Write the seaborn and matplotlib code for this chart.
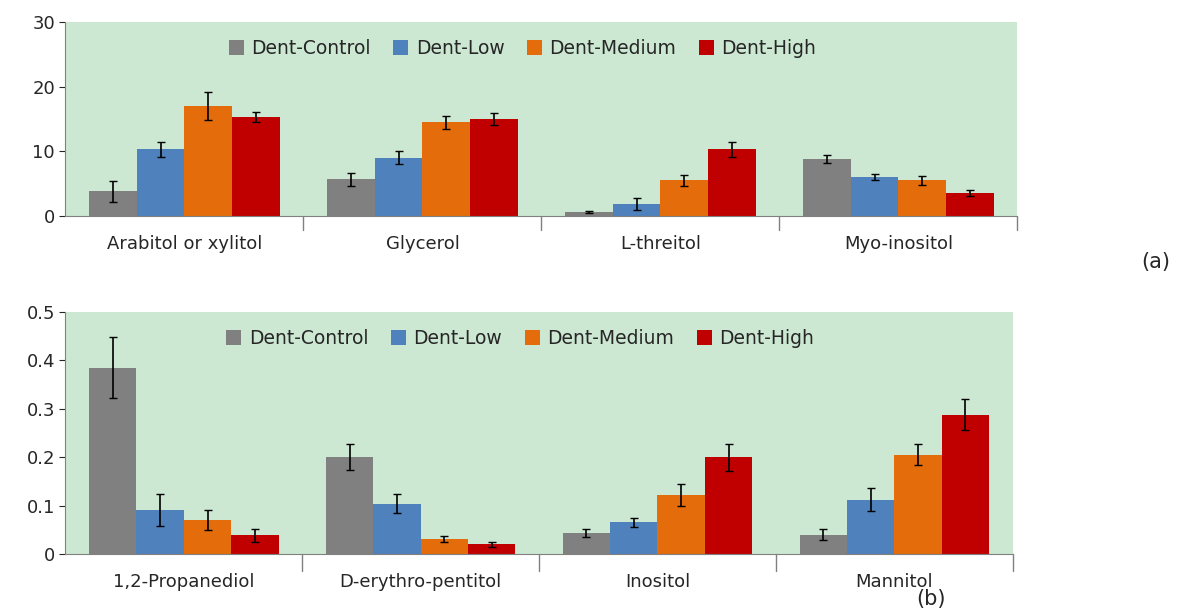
import numpy as np
import pandas as pd
import matplotlib
matplotlib.use("Agg")
import matplotlib.pyplot as plt
import seaborn as sns

groups = ["Dent-Control", "Dent-Low", "Dent-Medium", "Dent-High"]
colors = ["#808080", "#4F81BD", "#E46C0A", "#C00000"]

cats_a = ["Arabitol or xylitol", "Glycerol", "L-threitol", "Myo-inositol"]
vals_a = [[3.8, 5.7, 0.6, 8.8],
          [10.3, 9.0, 1.9, 6.0],
          [17.0, 14.5, 5.5, 5.5],
          [15.3, 15.0, 10.3, 3.6]]
errs_a = [[1.6, 1.0, 0.2, 0.6],
          [1.2, 1.0, 0.9, 0.5],
          [2.2, 1.0, 0.9, 0.7],
          [0.8, 0.9, 1.2, 0.5]]

cats_b = ["1,2-Propanediol", "D-erythro-pentitol", "Inositol", "Mannitol"]
vals_b = [[0.385, 0.200, 0.043, 0.040],
          [0.090, 0.104, 0.065, 0.112],
          [0.070, 0.031, 0.122, 0.205],
          [0.038, 0.020, 0.200, 0.288]]
errs_b = [[0.063, 0.027, 0.008, 0.012],
          [0.033, 0.020, 0.010, 0.024],
          [0.020, 0.006, 0.022, 0.022],
          [0.013, 0.005, 0.028, 0.032]]

sns.set_style("white")
plt.rcParams['font.family'] = ['DejaVu Sans']

fig = plt.figure(figsize=(11.9, 6.12), dpi=100)
ax_a = fig.add_axes([0.055, 0.647, 0.800, 0.317])
ax_b = fig.add_axes([0.055, 0.095, 0.796, 0.395])


def panel(ax, cats, vals, errs, ymax, step, fmt):
    rows = []
    for g, v in zip(groups, vals):
        for c, x in zip(cats, v):
            rows.append({"cat": c, "group": g, "val": x})
    df = pd.DataFrame(rows)
    sns.barplot(data=df, x="cat", y="val", hue="group", palette=colors,
                ax=ax, errorbar=None, width=0.8, saturation=1, linewidth=0)
    for cont, e in zip(ax.containers, errs):
        xs = [p.get_x() + p.get_width() / 2 for p in cont]
        hs = [p.get_height() for p in cont]
        ax.errorbar(xs, hs, yerr=e, fmt="none", ecolor="black",
                    elinewidth=1.2, capsize=3)
    ax.set_facecolor("#CCE8D2")
    ax.set_ylim(0, ymax)
    ax.set_xlim(-0.5, 3.5)
    ax.set_yticks(np.arange(0, ymax + step / 2, step))
    ax.set_yticklabels([fmt(t) for t in np.arange(0, ymax + step / 2, step)])
    ax.set_xlabel("")
    ax.set_ylabel("")
    ax.tick_params(axis="x", length=0, pad=14, labelsize=13)
    ax.tick_params(axis="y", labelsize=13, length=4, left=True)
    for xb in [0.5, 1.5, 2.5, 3.5]:
        ax.plot([xb, xb], [0, -0.07], transform=ax.get_xaxis_transform(),
                color="#808080", lw=1, clip_on=False)
    for s in ["top", "right"]:
        ax.spines[s].set_visible(False)
    ax.spines["left"].set_color("#808080")
    ax.spines["bottom"].set_color("#808080")
    ax.legend(loc="upper center", ncol=4, frameon=False, fontsize=13.5,
              handlelength=0.8, handleheight=0.8, columnspacing=1.2,
              handletextpad=0.4, bbox_to_anchor=(0.48, 1.0))


panel(ax_a, cats_a, vals_a, errs_a, 30, 10, lambda t: f"{t:.0f}")
panel(ax_b, cats_b, vals_b, errs_b, 0.5, 0.1,
      lambda t: "0" if t == 0 else f"{t:.1f}")

fig.text(0.983, 0.572, "(a)", fontsize=15, ha="right", va="center")
fig.text(0.782, 0.022, "(b)", fontsize=15, ha="center", va="center")

fig.savefig("out.png", dpi=100, facecolor="white")
